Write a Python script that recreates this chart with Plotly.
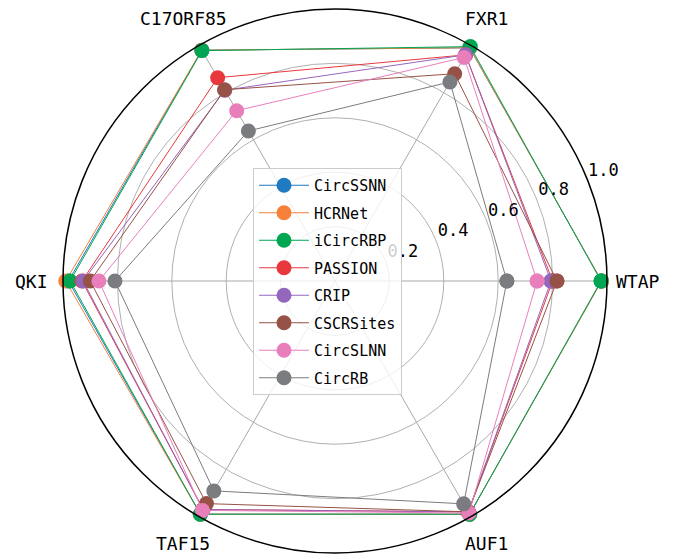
import math
import plotly.graph_objects as go

categories = ["WTAP", "FXR1", "C17ORF85", "QKI", "TAF15", "AUF1"]

series_names = ["CircSSNN", "HCRNet", "iCircRBP", "PASSION", "CRIP", "CSCRSites", "CircSLNN", "CircRB"]
CircSSNN = [0.980, 0.990, 0.980, 0.980, 0.990, 0.990]
HCRNet = [0.980, 0.990, 0.980, 0.990, 0.990, 0.990]
iCircRBP = [0.978, 0.995, 0.978, 0.974, 0.990, 0.990]
PASSION = [0.800, 0.960, 0.863, 0.930, 0.970, 0.980]
CRIP = [0.794, 0.960, 0.810, 0.926, 0.970, 0.980]
CSCRSites = [0.816, 0.880, 0.812, 0.900, 0.945, 0.980]
CircSLNN = [0.743, 0.949, 0.723, 0.868, 0.974, 0.985]
CircRB = [0.632, 0.845, 0.637, 0.809, 0.891, 0.946]

series_values = [CircSSNN, HCRNet, iCircRBP, PASSION, CRIP, CSCRSites, CircSLNN, CircRB]
colors = ["#1f7bc1", "#f5813a", "#00a651", "#e8383d", "#9467bd", "#965247", "#e87fbb", "#7b7c80"]

radial_ticks = [0.2, 0.4, 0.6, 0.8, 1.0]
radial_ticktext = ["0.2", "0.4", "0.6", "0.8", "1.0"]

FONT = "DejaVu Sans Mono"
W, H = 688, 559
OFF = 8  # page body margin in the browser
CX, CY, R = 335 - OFF, 281 - OFF, 272  # polar centre / radius in figure pixels

n = len(categories)
angles = [i * 360.0 / n for i in range(n)]


def to_paper(r, deg):
    a = math.radians(deg)
    return (CX + r * R * math.cos(a)) / W, 1 - (CY - r * R * math.sin(a)) / H


fig = go.Figure()
for name, vals, col in zip(series_names, series_values, colors):
    fig.add_trace(go.Scatterpolar(
        r=vals + vals[:1],
        theta=angles + angles[:1],
        mode="lines+markers",
        name=name,
        legendgroup=name,
        line=dict(color=col, width=1),
        marker=dict(color=col, size=15),
    ))

# radial tick labels inside the range (matplotlib-style, at 22.5 deg, just outside each ring)
inner = [(t, s) for t, s in zip(radial_ticks, radial_ticktext) if t < 1.0]
fig.add_trace(go.Scatterpolar(
    r=[t + 0.07 for t, _ in inner],
    theta=[22.5] * len(inner),
    mode="text",
    text=[s for _, s in inner],
    textposition="middle center",
    textfont=dict(family=FONT, size=17, color="black"),
    showlegend=False, hoverinfo="skip",
))

annotations = []
for t, s in zip(radial_ticks, radial_ticktext):
    if t >= 1.0:
        x, y = to_paper(t + 0.07, 22.5)
        annotations.append(dict(x=x, y=y, xref="paper", yref="paper", text=s, showarrow=False,
                                xanchor="center", yanchor="middle",
                                font=dict(family=FONT, size=17, color="black")))
for cat, ang in zip(categories, angles):
    x, y = to_paper(1.115, ang)
    annotations.append(dict(x=x, y=y, xref="paper", yref="paper", text=cat, showarrow=False,
                            xanchor="center", yanchor="middle",
                            font=dict(family=FONT, size=18, color="black")))

fig.update_layout(
    width=W, height=H,
    margin=dict(l=0, r=0, t=0, b=0),
    paper_bgcolor="white",
    font=dict(family=FONT, color="black", size=16),
    annotations=annotations,
    polar=dict(
        domain=dict(x=[(CX - R)/W, (CX + R)/W],
                    y=[1 - (CY + R)/H, 1 - (CY - R)/H]),
        bgcolor="white",
        angularaxis=dict(
            tickmode="array",
            tickvals=angles,
            direction="counterclockwise",
            rotation=0,
            showline=True, linecolor="black", linewidth=1.5,
            showgrid=True, gridcolor="#a8a8a8", gridwidth=1.4,
            ticks="",
            showticklabels=False,
        ),
        radialaxis=dict(
            range=[0, 1],
            tickvals=radial_ticks,
            showline=False,
            ticks="",
            showticklabels=False,
            showgrid=True, gridcolor="#b0b0b0", gridwidth=1.3,
        ),
    ),
    legend=dict(
        x=(253 - OFF)/W, y=1 - (168 - OFF)/H, xanchor="left", yanchor="top",
        bgcolor="rgba(255,255,255,0.8)",
        bordercolor="#cccccc", borderwidth=1,
        font=dict(family=FONT, size=15, color="black"),
        itemwidth=50,
        tracegroupgap=5,
    ),
)

fig.write_html("out.html")
